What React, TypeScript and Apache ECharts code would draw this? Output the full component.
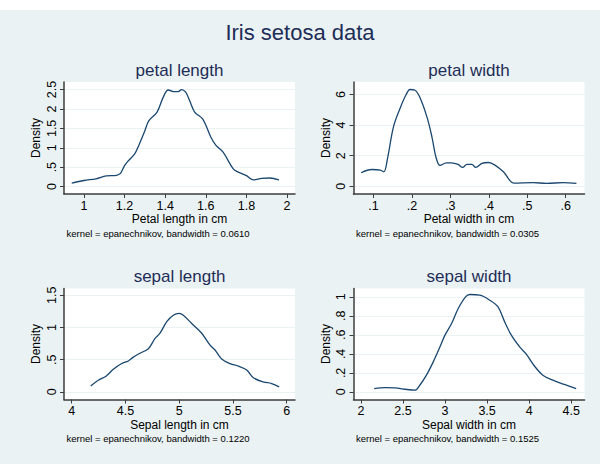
import React, { useEffect, useRef } from "react";
import * as echarts from "echarts";

// ---- data ----
const mainTitle = "Iris setosa data";
const panelTitles = ["petal length", "petal width", "sepal length", "sepal width"];
const xTitles = ["Petal length in cm", "Petal width in cm", "Sepal length in cm", "Sepal width in cm"];
const yTitle = "Density";
const notes = [
  "kernel = epanechnikov, bandwidth = 0.0610",
  "kernel = epanechnikov, bandwidth = 0.0305",
  "kernel = epanechnikov, bandwidth = 0.1220",
  "kernel = epanechnikov, bandwidth = 0.1525",
];

const petalLengthX = [0.94, 1.0, 1.06, 1.11, 1.16, 1.18, 1.2, 1.22, 1.25, 1.27, 1.3, 1.32, 1.36, 1.39, 1.415, 1.44, 1.465, 1.48, 1.5, 1.52, 1.545, 1.585, 1.625, 1.65, 1.685, 1.735, 1.76, 1.8, 1.835, 1.875, 1.915, 1.96];
const petalLengthY = [0.085, 0.155, 0.2, 0.275, 0.29, 0.34, 0.54, 0.67, 0.84, 1.06, 1.44, 1.7, 1.92, 2.3, 2.49, 2.45, 2.45, 2.5, 2.44, 2.22, 1.92, 1.74, 1.27, 1.06, 0.885, 0.455, 0.37, 0.28, 0.17, 0.21, 0.22, 0.17];

const petalWidthX = [0.068, 0.096, 0.118, 0.127, 0.137, 0.152, 0.169, 0.185, 0.195, 0.208, 0.22, 0.239, 0.252, 0.263, 0.273, 0.29, 0.303, 0.32, 0.332, 0.343, 0.356, 0.366, 0.382, 0.399, 0.416, 0.438, 0.466, 0.516, 0.55, 0.594, 0.628];
const petalWidthY = [0.89, 1.1, 1.06, 0.95, 1.89, 3.89, 5.09, 6.0, 6.33, 6.28, 5.85, 4.54, 3.24, 1.87, 1.37, 1.54, 1.54, 1.43, 1.24, 1.43, 1.43, 1.24, 1.5, 1.56, 1.39, 0.95, 0.21, 0.24, 0.2, 0.24, 0.2];

const sepalLengthX = [4.177, 4.247, 4.319, 4.387, 4.465, 4.527, 4.573, 4.635, 4.713, 4.775, 4.821, 4.884, 4.945, 4.998, 5.038, 5.116, 5.209, 5.287, 5.333, 5.395, 5.473, 5.55, 5.628, 5.69, 5.782, 5.86, 5.93];
const sepalLengthY = [0.093, 0.18, 0.244, 0.35, 0.44, 0.48, 0.54, 0.6, 0.67, 0.83, 0.91, 1.09, 1.19, 1.217, 1.19, 1.06, 0.91, 0.725, 0.65, 0.51, 0.44, 0.4, 0.34, 0.22, 0.155, 0.13, 0.078];

const sepalWidthX = [2.158, 2.288, 2.406, 2.524, 2.643, 2.7, 2.779, 2.86, 2.94, 2.999, 3.078, 3.157, 3.244, 3.295, 3.413, 3.532, 3.63, 3.709, 3.788, 3.887, 3.966, 4.065, 4.163, 4.282, 4.42, 4.559];
const sepalWidthY = [0.035, 0.046, 0.043, 0.028, 0.018, 0.07, 0.176, 0.316, 0.474, 0.597, 0.72, 0.878, 1.0, 1.025, 1.018, 0.965, 0.895, 0.737, 0.597, 0.474, 0.397, 0.27, 0.176, 0.123, 0.078, 0.035];

const xTicks = [
  [1, 1.2, 1.4, 1.6, 1.8, 2],
  [0.1, 0.2, 0.3, 0.4, 0.5, 0.6],
  [4, 4.5, 5, 5.5, 6],
  [2, 2.5, 3, 3.5, 4, 4.5],
];
const xTickLabels = [
  ["1", "1.2", "1.4", "1.6", "1.8", "2"],
  [".1", ".2", ".3", ".4", ".5", ".6"],
  ["4", "4.5", "5", "5.5", "6"],
  ["2", "2.5", "3", "3.5", "4", "4.5"],
];
const yTicks = [
  [0, 0.5, 1, 1.5, 2, 2.5],
  [0, 2, 4, 6],
  [0, 0.5, 1, 1.5],
  [0, 0.2, 0.4, 0.6, 0.8, 1],
];
const yTickLabels = [
  ["0", ".5", "1", "1.5", "2", "2.5"],
  ["0", "2", "4", "6"],
  ["0", ".5", "1", "1.5"],
  ["0", ".2", ".4", ".6", ".8", "1"],
];

const seriesX = [petalLengthX, petalWidthX, sepalLengthX, sepalWidthX];
const seriesY = [petalLengthY, petalWidthY, sepalLengthY, sepalWidthY];

// ---- layout ----
const W = 600;
const H = 464;
const FONT = "'Liberation Sans', Arial, Helvetica, sans-serif";
const BG = "#eaf2f3";
const NAVY = "#1e2d57";
const LINE = "#1a476f";
const AXIS = "#3c3c3c";

const grids = [
  { left: 64, top: 82, width: 231, height: 112 },
  { left: 353.5, top: 82, width: 231, height: 112 },
  { left: 64, top: 288.5, width: 231, height: 111 },
  { left: 353.5, top: 288.5, width: 231, height: 111 },
];
const xRanges = [
  [0.902, 2.039],
  [0.048, 0.649],
  [3.928, 6.077],
  [1.912, 4.658],
];
const yRanges = [
  [-0.193, 2.696],
  [-0.5, 6.82],
  [-0.118, 1.604],
  [-0.08, 1.088],
];

function labelFor(values: number[], labels: string[]) {
  return (v: number) => {
    for (let i = 0; i < values.length; i++) {
      if (Math.abs(values[i] - v) < 1e-9) return labels[i];
    }
    return "";
  };
}

export default function App() {
  const ref = useRef<HTMLDivElement>(null);

  useEffect(() => {
    if (!ref.current) return;
    const chart = echarts.init(ref.current, undefined, { renderer: "svg" });

    const gridOpts = grids.map((g) => ({
      left: g.left,
      top: g.top,
      width: g.width,
      height: g.height,
      show: true,
      backgroundColor: "#ffffff",
      borderWidth: 0,
      containLabel: false,
    }));

    const xAxes = grids.map((_, i) => ({
      type: "value",
      gridIndex: i,
      min: xRanges[i][0],
      max: xRanges[i][1],
      name: xTitles[i],
      nameLocation: "middle",
      nameGap: 19,
      nameTextStyle: { fontFamily: FONT, fontSize: 12, color: "#000" },
      axisLine: { show: true, onZero: false, lineStyle: { color: AXIS, width: 1.5 } },
      axisTick: { show: true, length: 4, customValues: xTicks[i], lineStyle: { color: AXIS, width: 1 } },
      axisLabel: {
        customValues: xTicks[i],
        margin: 5,
        fontFamily: FONT,
        fontSize: 12.5,
        color: "#000",
        formatter: labelFor(xTicks[i], xTickLabels[i]),
      },
      splitLine: { show: false },
    }));

    const yAxes = grids.map((_, i) => ({
      type: "value",
      gridIndex: i,
      min: yRanges[i][0],
      max: yRanges[i][1],
      name: yTitle,
      nameLocation: "middle",
      nameGap: 22,
      nameTextStyle: { fontFamily: FONT, fontSize: 12, color: "#000" },
      axisLine: { show: true, onZero: false, lineStyle: { color: AXIS, width: 1.5 } },
      axisTick: { show: true, length: 4, customValues: yTicks[i], lineStyle: { color: AXIS, width: 1 } },
      axisLabel: {
        customValues: yTicks[i],
        rotate: 90,
        margin: 6,
        fontFamily: FONT,
        fontSize: 12.5,
        color: "#000",
        formatter: labelFor(yTicks[i], yTickLabels[i]),
      },
      splitLine: { show: true, lineStyle: { color: BG, width: 1 } },
    }));

    const series = grids.map((_, i) => ({
      type: "line",
      xAxisIndex: i,
      yAxisIndex: i,
      data: seriesX[i].map((x, k) => [x, seriesY[i][k]]),
      showSymbol: false,
      smooth: 0.35,
      lineStyle: { color: LINE, width: 1.3 },
      itemStyle: { color: LINE },
      z: 3,
    }));

    const texts: any[] = [
      {
        type: "rect",
        shape: { x: 0, y: 10, width: W, height: H - 10 },
        style: { fill: BG },
        z: -10,
        silent: true,
      },
      {
        type: "text",
        x: W / 2,
        y: 32,
        style: {
          text: mainTitle,
          fontFamily: FONT,
          fontSize: 22,
          fill: NAVY,
          textAlign: "center",
          textVerticalAlign: "middle",
        },
      },
    ];
    grids.forEach((g, i) => {
      texts.push({
        type: "text",
        x: g.left + g.width / 2,
        y: g.top - 12,
        style: {
          text: panelTitles[i],
          fontFamily: FONT,
          fontSize: 17,
          fill: NAVY,
          textAlign: "center",
          textVerticalAlign: "middle",
        },
      });
      texts.push({
        type: "text",
        x: g.left + 2.5,
        y: g.top + g.height + 39,
        style: {
          text: notes[i],
          fontFamily: FONT,
          fontSize: 9.5,
          fill: "#000",
          textAlign: "left",
          textVerticalAlign: "middle",
        },
      });
    });

    chart.setOption({
      animation: false,
      backgroundColor: "#ffffff",
      grid: gridOpts,
      xAxis: xAxes,
      yAxis: yAxes,
      series,
      graphic: { elements: texts },
    } as any);

    return () => {
      chart.dispose();
    };
  }, []);

  return (
    <div
      ref={ref}
      style={{ position: "fixed", left: 0, top: 0, width: W, height: H }}
    />
  );
}
